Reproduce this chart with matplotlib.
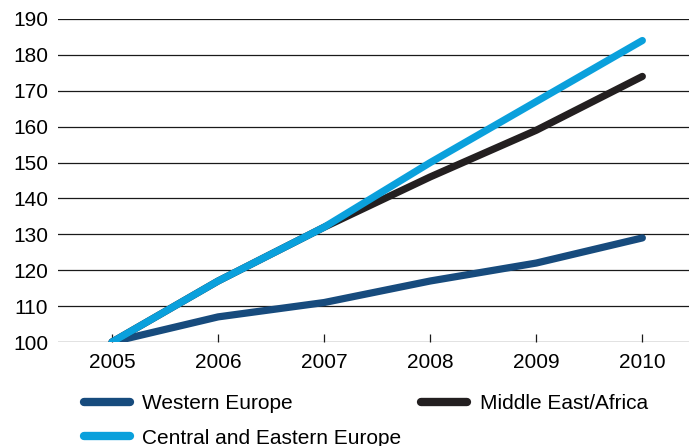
import matplotlib
matplotlib.use("Agg")
import matplotlib.pyplot as plt
from matplotlib.lines import Line2D

years = [2005, 2006, 2007, 2008, 2009, 2010]
western = [100, 107, 111, 117, 122, 129]
central_eastern = [100, 117, 132, 150, 167, 184]
middle_east = [100, 117, 132, 146, 159, 174]
y_ticks = [100, 110, 120, 130, 140, 150, 160, 170, 180, 190]

DARK = "#174b7d"
LIGHT = "#0aa0dc"
BLACK = "#231f20"

plt.rcParams["font.family"] = ["Liberation Sans", "DejaVu Sans"]
plt.rcParams["font.size"] = 15

fig = plt.figure(figsize=(6.89, 4.46), dpi=100)
ax = fig.add_axes([58 / 689, 1 - 342 / 446, 1.0 - 58 / 689, (342 - 19) / 446])

for yv in y_ticks:
    ax.axhline(yv, color="#1a1a1a", lw=0.9, zorder=1)

lw = 5.2
series = [("Western Europe", western, DARK),
          ("Middle East/Africa", middle_east, BLACK),
          ("Central and Eastern Europe", central_eastern, LIGHT)]
for name, vals, col in series:
    ax.plot(years, vals, color=col, lw=lw, solid_capstyle="round", zorder=3)

ax.set_xlim(2004.49, 2010.44)
ax.set_ylim(100, 190)
ax.set_yticks(y_ticks)
ax.set_xticks(years)
for s in ax.spines.values():
    s.set_visible(False)
ax.tick_params(axis="y", length=0, pad=7)
ax.tick_params(axis="x", direction="in", length=6, width=0.9, pad=8, color="#1a1a1a")

# legend: two columns, Western/Central on the left, Middle East on the right
handles = [Line2D([], [], color=c, lw=6, solid_capstyle="round") for c in (DARK, LIGHT, BLACK)]
labels = ["Western Europe", "Central and Eastern Europe", "Middle East/Africa"]
fig.legend(handles=handles, labels=labels, ncol=2, frameon=False,
           loc="upper left", bbox_to_anchor=(84 / 689, 1 - 394 / 446),
           borderpad=0, borderaxespad=0, handlelength=2.2, handletextpad=0.6,
           labelspacing=0.75, columnspacing=0.95)

fig.savefig("out.png", dpi=100)
